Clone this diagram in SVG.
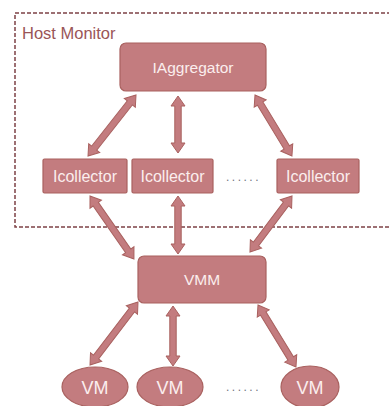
<svg xmlns="http://www.w3.org/2000/svg" width="389" height="406" viewBox="0 0 389 406">
  <style>
    .box { fill: #c37c7f; stroke: #a9615f; stroke-width: 1.2; }
    .arrow { fill: #c37c7f; stroke: #a9615f; stroke-width: 1; }
    .label { font-family: "Liberation Sans", Arial, sans-serif; fill: #fbeeee; text-anchor: middle; }
    .frame { fill: none; stroke: #7e4245; stroke-width: 1.5; stroke-dasharray: 4 2; }
    .dots { font-family: "Liberation Sans", Arial, sans-serif; font-size: 12px; fill: #6f7380; letter-spacing: 2.5px; }
  </style>

  <!-- host monitor boundary (right edge runs off the canvas) -->
  <g id="host-monitor">
    <rect class="frame" x="15" y="13" width="380" height="214"/>
    <text x="22" y="39" font-family="Liberation Sans, Arial, sans-serif" font-size="16.5" fill="#9a5558">Host Monitor</text>
  </g>

  <!-- double-headed block connectors -->
  <g id="connectors">
    <path class="arrow" transform="translate(136,95) rotate(128.2)" d="M0,0 L10,-7 L10,-3.2 L67.6,-3.2 L67.6,-7 L77.6,0 L67.6,7 L67.6,3.2 L10,3.2 L10,7 Z"/>
    <path class="arrow" transform="translate(178,96) rotate(90)" d="M0,0 L10,-7 L10,-3.2 L47,-3.2 L47,-7 L57,0 L47,7 L47,3.2 L10,3.2 L10,7 Z"/>
    <path class="arrow" transform="translate(255,95) rotate(58.8)" d="M0,0 L10,-7 L10,-3.2 L61.3,-3.2 L61.3,-7 L71.3,0 L61.3,7 L61.3,3.2 L10,3.2 L10,7 Z"/>
    <path class="arrow" transform="translate(90,196) rotate(55.1)" d="M0,0 L10,-7 L10,-3.2 L66.8,-3.2 L66.8,-7 L76.8,0 L66.8,7 L66.8,3.2 L10,3.2 L10,7 Z"/>
    <path class="arrow" transform="translate(178,196) rotate(90)" d="M0,0 L10,-7 L10,-3.2 L48,-3.2 L48,-7 L58,0 L48,7 L48,3.2 L10,3.2 L10,7 Z"/>
    <path class="arrow" transform="translate(292,196) rotate(126.9)" d="M0,0 L10,-7 L10,-3.2 L60,-3.2 L60,-7 L70,0 L60,7 L60,3.2 L10,3.2 L10,7 Z"/>
    <path class="arrow" transform="translate(138,302) rotate(127.3)" d="M0,0 L10,-7 L10,-3.2 L69.2,-3.2 L69.2,-7 L79.2,0 L69.2,7 L69.2,3.2 L10,3.2 L10,7 Z"/>
    <path class="arrow" transform="translate(173,306) rotate(90)" d="M0,0 L10,-7 L10,-3.2 L50,-3.2 L50,-7 L60,0 L50,7 L50,3.2 L10,3.2 L10,7 Z"/>
    <path class="arrow" transform="translate(258,305) rotate(58.5)" d="M0,0 L10,-7 L10,-3.2 L62.7,-3.2 L62.7,-7 L72.7,0 L62.7,7 L62.7,3.2 L10,3.2 L10,7 Z"/>
  </g>

  <g id="iaggregator">
    <rect class="box" x="120" y="43" width="146" height="48" rx="6"/>
    <text class="label" x="193" y="73" font-size="15.5">IAggregator</text>
  </g>

  <g id="icollector-1">
    <rect class="box" x="43" y="159" width="84" height="34" rx="1.5"/>
    <text class="label" x="85" y="182" font-size="16">Icollector</text>
  </g>
  <g id="icollector-2">
    <rect class="box" x="132" y="159" width="81" height="34" rx="1.5"/>
    <text class="label" x="172.5" y="182" font-size="16">Icollector</text>
  </g>
  <g id="icollector-3">
    <rect class="box" x="277" y="159" width="82" height="34" rx="1.5"/>
    <text class="label" x="318" y="182" font-size="16">Icollector</text>
  </g>
  <text class="dots" x="226" y="181">......</text>

  <g id="vmm">
    <rect class="box" x="138" y="256" width="128" height="47" rx="6"/>
    <text class="label" x="202" y="285" font-size="15.5">VMM</text>
  </g>

  <g id="vm-1">
    <ellipse class="box" cx="95" cy="387" rx="33" ry="20"/>
    <text class="label" x="95" y="394" font-size="18">VM</text>
  </g>
  <g id="vm-2">
    <ellipse class="box" cx="170" cy="387" rx="33" ry="20"/>
    <text class="label" x="170" y="394" font-size="18">VM</text>
  </g>
  <g id="vm-3">
    <ellipse class="box" cx="310" cy="387" rx="29" ry="21"/>
    <text class="label" x="310" y="394" font-size="18">VM</text>
  </g>
  <text class="dots" x="226" y="391">......</text>
</svg>
